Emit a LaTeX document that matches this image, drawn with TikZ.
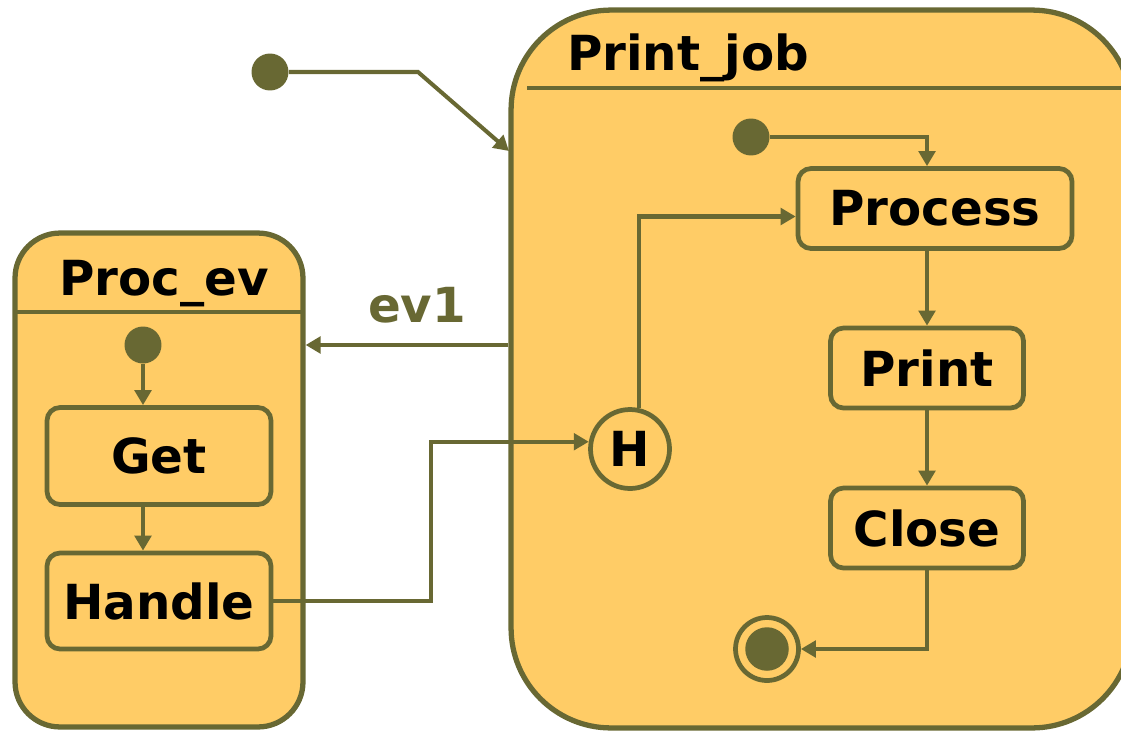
\documentclass[tikz,border=0pt]{standalone}
\usepackage{fontspec}
\setmainfont{DejaVu Sans}
\usetikzlibrary{arrows.meta,positioning,calc}
\definecolor{moss}{HTML}{686833}
\definecolor{sand}{HTML}{FFCC66}

\begin{document}
\begin{tikzpicture}[x=0.02cm,y=-0.02cm,font=\fontsize{27.5}{32}\selectfont\bfseries,
  sub/.style={draw=moss,line width=3pt,fill=sand,inner sep=0pt},
  box/.style={draw=moss,line width=2.7pt,fill=sand,rounded corners=0.26cm,minimum height=1.6cm},
  dot/.style={circle,fill=moss,inner sep=0pt,minimum size=0.74cm},
  tr/.style={moss,line width=2.3pt,-{Triangle[length=3mm,width=3.3mm]}}]
\useasboundingbox (0,0) rectangle (1121,730);
\clip (0,0) rectangle (1121,730);

\node[sub,rounded corners=0.9cm,minimum width=5.76cm,minimum height=9.88cm] (pe) at (159,480) {};
\node[sub,rounded corners=2cm,minimum width=12.42cm,minimum height=14.36cm] (pj) at (821.5,369) {};
\draw[moss,line width=2.8pt] (15,312) -- (303,312);
\draw[moss,line width=2.8pt] (527,88) -- (1130,88);
\node[anchor=base] (pet) at (164,295) {Proc\_ev};
\node[anchor=base] (pjt) at (688,70) {Print\_job};

\node[box,minimum width=4.48cm,minimum height=1.94cm] (get) at (159,456) {Get};
\node[box,minimum width=4.48cm,minimum height=1.92cm] (hdl) at (159,601) {Handle};
\node[box,minimum width=5.48cm] (prc) at (935,208.5) {Process};
\node[box,minimum width=3.86cm] (prn) at (927,368) {Print};
\node[box,minimum width=3.86cm] (cls) at (927,528) {Close};

\node[dot] (i0) at (270,72) {};
\node[dot] (i1) at (143,345) {};
\node[dot] (i2) at (751,137) {};
\node[circle,draw=moss,line width=2.7pt,fill=sand,inner sep=0pt,minimum size=1.58cm] (hist) at (630,449) {H};
\node[circle,draw=moss,line width=2.7pt,fill=sand,inner sep=0pt,minimum size=1.26cm] (fin) at (767,649) {};
\node[dot,minimum size=0.87cm] (finc) at (fin) {};

\coordinate (bend) at (418,72);
\coordinate (pjin) at (509,151);
\coordinate (hx) at (431,520);
\draw[tr] (i0) -- (bend) -- (pjin);
\draw[tr] (pj.west |- i1) -- node[pos=0.45,above=0.4cm,inner sep=0pt,text=moss] (ev) {ev1} (pe.east |- i1);
\draw[tr] (i1) -- (i1 |- get.north);
\draw[tr] (get.south -| i1) -- (hdl.north -| i1);
\draw[tr] (hdl.east) -| (hx) |- (hist.170);
\draw[tr] (hist.77) |- ([yshift=-0.16cm]prc.west);
\draw[tr] (i2) -| (prc.north -| prn);
\draw[tr] (prc.south -| prn) -- (prn.north);
\draw[tr] (prn) -- (cls);
\draw[tr] (cls.south) |- (fin);
\end{tikzpicture}
\end{document}
